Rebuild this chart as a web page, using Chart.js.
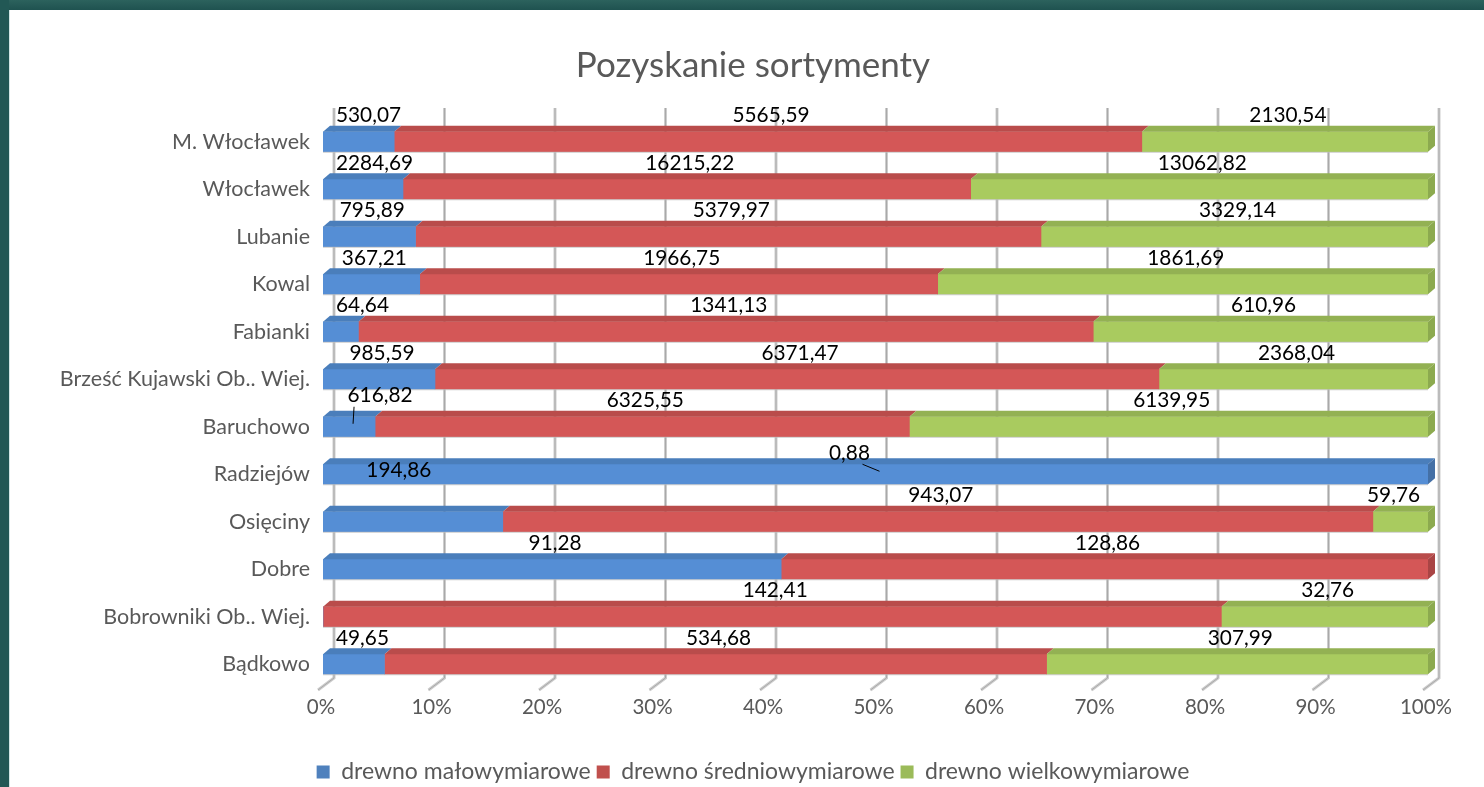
<!DOCTYPE html>
<html><head><meta charset="utf-8">
<script src="https://cdn.jsdelivr.net/npm/chart.js@4/dist/chart.umd.min.js"></script>
<style>
html,body{margin:0;padding:0;width:1484px;height:787px;overflow:hidden;background:#fff;}
#frameTop{position:absolute;left:0;top:0;width:1484px;height:10px;background:linear-gradient(#2c625d,#1f5250);}
#frameLeft{position:absolute;left:0;top:0;width:9px;height:787px;background:#225855;}
#frameEdge{position:absolute;left:9px;top:10px;width:1px;height:777px;background:#d3e6e5;}
#wrap{position:absolute;left:22px;top:10px;width:1462px;height:787px;}
</style></head><body>
<div id="frameTop"></div><div id="frameLeft"></div><div id="frameEdge"></div>
<div id="wrap"><canvas id="c"></canvas></div>
<script>
// ---------- data ----------
const categories = ['M. Włocławek','Włocławek','Lubanie','Kowal','Fabianki','Brześć Kujawski Ob.. Wiej.','Baruchowo','Radziejów','Osięciny','Dobre','Bobrowniki Ob.. Wiej.','Bądkowo'];
const seriesNames = ['drewno małowymiarowe','drewno średniowymiarowe','drewno wielkowymiarowe'];
const maloValues = [530.07,2284.69,795.89,367.21,64.64,985.59,616.82,0.88,194.86,91.28,0,49.65];
const sredValues = [5565.59,16215.22,5379.97,1966.75,1341.13,6371.47,6325.55,0,943.07,128.86,142.41,534.68];
const wielValues = [2130.54,13062.82,3329.14,1861.69,610.96,2368.04,6139.95,0,59.76,0,32.76,307.99];
const tickValues = [0,10,20,30,40,50,60,70,80,90,100];
const titleText = 'Pozyskanie sortymenty';

// ---------- style ----------
const FONT = 'Lato';
const frontColors = ['#558ed5','#d45757','#a9cb5f'];
const topColors = ['#4a7ebb','#b94c4b','#93b153'];
const sideColors = ['#4470a6','#a94545','#8caa4f'];
const legendColors = ['#4f81bd','#c0504d','#9bbb59'];
const DX = 7, DY = 6;
const labelNudges = { '6-0': {dx: 31, dy: -5, leader: -26}, '7-0': {dx: -26, dy: 5, leader: 13}, '8-0': {dx: -14, dy: -25} };

const rawSeries = [maloValues, sredValues, wielValues];
const totals = categories.map((_, i) => maloValues[i] + sredValues[i] + wielValues[i]);
const toPct = arr => arr.map((v, i) => v / totals[i] * 100);

function poly(ctx, pts){ ctx.beginPath(); ctx.moveTo(pts[0][0], pts[0][1]); for (let i=1;i<pts.length;i++) ctx.lineTo(pts[i][0], pts[i][1]); ctx.closePath(); ctx.fill(); }

const threeD = {
  id: 'threeD',
  beforeDatasetsDraw(chart) {
    const {ctx, chartArea: a, scales: {x}} = chart;
    ctx.save();
    tickValues.forEach(v => {
      const xb = x.getPixelForValue(v) + 11;
      const yTop = a.top - 10, yBot = a.bottom - 10;
      [[3,'#cdcdcd'],[1,'#a9a9a9']].forEach(([lw,c]) => {
        ctx.lineWidth = lw; ctx.strokeStyle = c;
        ctx.beginPath(); ctx.moveTo(xb, yTop); ctx.lineTo(xb, yBot); ctx.lineTo(xb - 16, yBot + 12); ctx.stroke();
      });
    });
    ctx.restore();
  },
  afterDatasetsDraw(chart) {
    const {ctx, chartArea: a} = chart;
    ctx.save();
    const n = categories.length;
    for (let i = 0; i < n; i++) {
      let last = -1;
      chart.data.datasets.forEach((ds, k) => { if (ds.data[i] > 0) last = k; });
      chart.data.datasets.forEach((ds, k) => {
        if (!(ds.data[i] > 0)) return;
        const el = chart.getDatasetMeta(k).data[i];
        const p = el.getProps(['x','base','y','height'], true);
        const top = p.y - p.height/2, bot = p.y + p.height/2;
        ctx.fillStyle = topColors[k];
        poly(ctx, [[p.base, top],[p.x, top],[p.x+DX, top-DY],[p.base+DX, top-DY]]);
        if (k === last) {
          ctx.fillStyle = sideColors[k];
          poly(ctx, [[p.x, top],[p.x+DX, top-DY],[p.x+DX, bot-DY],[p.x, bot]]);
        }
        ctx.fillStyle = 'rgba(190,190,190,0.8)';
        ctx.fillRect(p.base, bot, p.x - p.base, 1);
      });
    }
    // data labels
    ctx.font = '20.8px "' + FONT + '"';
    ctx.textAlign = 'center'; ctx.textBaseline = 'middle';
    rawSeries.forEach((arr, k) => arr.forEach((v, i) => {
      if (!(v > 0)) return;
      const el = chart.getDatasetMeta(k).data[i];
      const p = el.getProps(['x','base','y','height'], true);
      const frontTop = p.y - p.height/2;
      const segC = (p.base + p.x) / 2;
      const txt = v.toFixed(2).replace('.', ',');
      const w = ctx.measureText(txt).width;
      let lx = segC + 3, ly = frontTop - 16;
      const nd = labelNudges[i + '-' + k];
      if (nd) {
        lx = segC + nd.dx; ly = frontTop - 16 + nd.dy;
        if (nd.leader !== undefined) {
          ctx.strokeStyle = '#000'; ctx.lineWidth = 1;
          ctx.beginPath(); ctx.moveTo(lx + nd.leader, ly + 11); ctx.lineTo(segC + 4, frontTop + 7); ctx.stroke();
        }
      } else {
        if (lx - w/2 < a.left + 13) lx = a.left + 13 + w/2;
        if (lx + w/2 > a.right - 8) lx = a.right - 8 - w/2;
      }
      ctx.fillStyle = '#000';
      ctx.fillText(txt, lx, ly);
    }));
    ctx.restore();
  }
};

const TITLE_SIZE = 35;
const LEGEND_SIZE = 23;
new Chart(document.getElementById('c'), {
  type: 'bar',
  data: {
    labels: categories,
    datasets: rawSeries.map((arr, k) => ({
      label: seriesNames[k], data: toPct(arr), backgroundColor: frontColors[k],
      borderWidth: 0, barThickness: 20, yAxisID: 'y'
    }))
  },
  options: {
    indexAxis: 'y', responsive: true, maintainAspectRatio: false, animation: false,
    layout: { padding: { left: 0, right: 0, top: 0, bottom: 3.5 } },
    scales: {
      x: {
        stacked: true, min: 0, max: 100,
        afterBuildTicks: s => { s.ticks = tickValues.map(v => ({ value: v })); },
        ticks: { callback: v => v + '%', font: { family: FONT, size: 20.5 }, color: '#595959', padding: 7, maxRotation: 0, autoSkip: false, labelOffset: -2 },
        grid: { display: false, drawTicks: false }, border: { display: false },
        afterFit: s => { s.height = 66.5; s.paddingLeft = 0; s.paddingRight = 0; }
      },
      y: {
        stacked: true,
        ticks: { font: { family: FONT, size: 21.5 }, color: '#595959', padding: 13, autoSkip: false },
        grid: { display: false, drawTicks: false }, border: { display: false },
        afterFit: s => { s.width = 301; s.paddingTop = 0; s.paddingBottom = 0; }
      },
      yRight: {
        axis: 'y', type: 'linear', position: 'right', display: true,
        ticks: { display: false }, grid: { display: false, drawTicks: false }, border: { display: false },
        afterFit: s => { s.width = 56; s.paddingTop = 0; s.paddingBottom = 0; }
      }
    },
    plugins: {
      title: {
        display: true, text: titleText, color: '#595959',
        font: { family: FONT, size: TITLE_SIZE, weight: 'normal' },
        padding: { top: 56 - 0.6 * TITLE_SIZE, bottom: 108 - (56 - 0.6 * TITLE_SIZE) - 1.2 * TITLE_SIZE }
      },
      legend: {
        position: 'bottom',
        labels: {
          boxWidth: 13, boxHeight: 13, padding: 6, color: '#595959',
          font: { family: FONT, size: LEGEND_SIZE },
          generateLabels: chart => chart.data.datasets.map((ds, i) => ({
            text: ds.label, fillStyle: legendColors[i], strokeStyle: legendColors[i], lineWidth: 0,
            hidden: false, datasetIndex: i, fontColor: '#595959'
          }))
        }
      },
      tooltip: { enabled: false }
    }
  },
  plugins: [threeD]
});
</script>
</body></html>
